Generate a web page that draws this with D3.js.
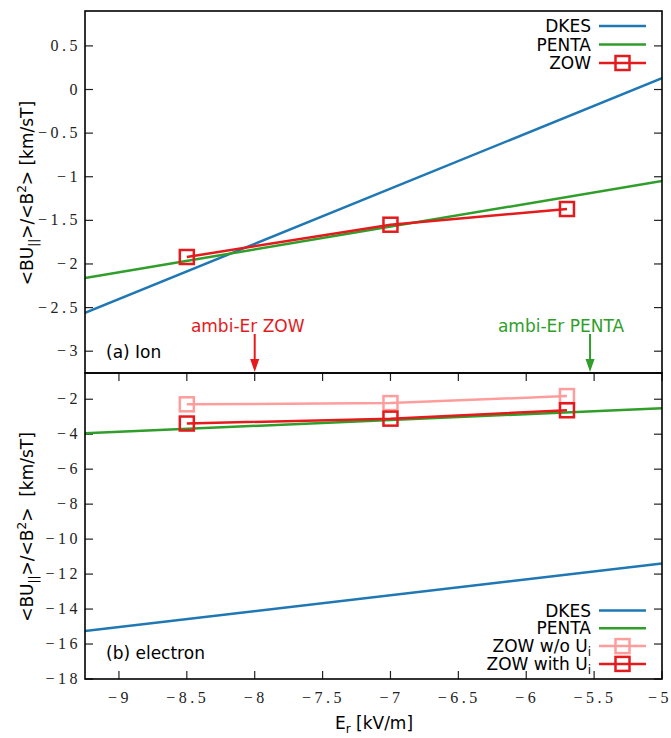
<!DOCTYPE html>
<html>
<head>
<meta charset="utf-8">
<script src="https://cdn.jsdelivr.net/npm/d3@7"></script>
<style>
  body { margin: 0; background: #fff; }
  svg { display: block; }
</style>
</head>
<body>
<div id="vis"></div>
<script>
// data
const erLine = [-9.25, -5];
const erZow = [-8.5, -7, -5.7];

const dkesIon = [-2.56, 0.13];
const pentaIon = [-2.16, -1.05];
const zowIon = [-1.92, -1.55, -1.37];

const dkesEle = [-15.25, -11.4];
const pentaEle = [-3.94, -2.52];
const zowEleNoUi = [-2.29, -2.22, -1.82];
const zowEleUi = [-3.39, -3.11, -2.63];

const ambiZow = -8.0;
const ambiPenta = -5.53;

const xTicks = [-9, -8.5, -8, -7.5, -7, -6.5, -6, -5.5, -5];
const yTicksTop = [0.5, 0, -0.5, -1, -1.5, -2, -2.5, -3];
const yTicksBot = [-2, -4, -6, -8, -10, -12, -14, -16, -18];

const C = {
  dkes: "#1f77b4",
  penta: "#2f9e2a",
  zow: "#e41a1c",
  zowLight: "#ff9d9d"
};

const W = 671, H = 738;
const left = 85, right = 662;
const topPanel = { y0: 11, y1: 373 };
const botPanel = { y0: 373, y1: 679 };

const svg = d3.select("#vis").append("svg")
  .attr("width", W)
  .attr("height", H)
  .style("font-family", "'DejaVu Sans', sans-serif");

const x = d3.scaleLinear().domain([-9.25, -5]).range([left, right]);
const yTop = d3.scaleLinear().domain([-3.25, 0.9]).range([topPanel.y1, topPanel.y0]);
const yBot = d3.scaleLinear().domain([-18, -0.5]).range([botPanel.y1, botPanel.y0]);

const tickFont = "'Liberation Serif', 'DejaVu Serif', serif";
const fmt = v => (v < 0 ? "\u2212" : "") + Math.abs(v);

// clip paths
const defs = svg.append("defs");
defs.append("clipPath").attr("id", "clipTop").append("rect")
  .attr("x", left).attr("y", topPanel.y0).attr("width", right - left).attr("height", topPanel.y1 - topPanel.y0);
defs.append("clipPath").attr("id", "clipBot").append("rect")
  .attr("x", left).attr("y", botPanel.y0).attr("width", right - left).attr("height", botPanel.y1 - botPanel.y0);

// y ticks (inward, both sides)
function yAxis(scale, ticks) {
  const g = svg.append("g").attr("stroke", "#222").attr("stroke-width", 1.2);
  ticks.forEach(t => {
    const yy = scale(t);
    g.append("line").attr("x1", left).attr("x2", left + 8).attr("y1", yy).attr("y2", yy);
    g.append("line").attr("x1", right - 8).attr("x2", right).attr("y1", yy).attr("y2", yy);
    svg.append("text")
      .attr("x", 81)
      .attr("y", yy + 5)
      .attr("text-anchor", "end")
      .attr("font-family", tickFont)
      .attr("font-size", 16)
      .attr("letter-spacing", 3.5)
      .attr("fill", "#222")
      .text(fmt(t));
  });
}
yAxis(yTop, yTicksTop);
yAxis(yBot, yTicksBot);

// x ticks on bottom panel (bottom and top edge, inward)
const xg = svg.append("g").attr("stroke", "#222").attr("stroke-width", 1.2);
xTicks.forEach(t => {
  const xx = x(t);
  xg.append("line").attr("x1", xx).attr("x2", xx).attr("y1", botPanel.y1).attr("y2", botPanel.y1 - 8);
  xg.append("line").attr("x1", xx).attr("x2", xx).attr("y1", botPanel.y0).attr("y2", botPanel.y0 + 8);
  svg.append("text")
    .attr("x", t === -5 ? xx - 2 : xx + 1)
    .attr("y", 703)
    .attr("text-anchor", "middle")
    .attr("font-family", tickFont)
    .attr("font-size", 16)
    .attr("letter-spacing", 3.5)
    .attr("fill", "#222")
    .text(fmt(t));
});

// series
function line(scale, xs, ys, color, clip) {
  const pts = xs.map((v, i) => [x(v), scale(ys[i])]);
  svg.append("path")
    .attr("clip-path", `url(#${clip})`)
    .attr("d", d3.line()(pts))
    .attr("fill", "none")
    .attr("stroke", color)
    .attr("stroke-width", 2.5);
}
function squares(scale, xs, ys, color) {
  svg.append("g").selectAll("rect")
    .data(xs.map((v, i) => [v, ys[i]]))
    .enter()
    .append("rect")
    .attr("x", d => x(d[0]) - 7)
    .attr("y", d => scale(d[1]) - 7)
    .attr("width", 14)
    .attr("height", 14)
    .attr("fill", "none")
    .attr("stroke", color)
    .attr("stroke-width", 2.5);
}

line(yTop, erLine, dkesIon, C.dkes, "clipTop");
line(yTop, erLine, pentaIon, C.penta, "clipTop");
line(yTop, erZow, zowIon, C.zow, "clipTop");
squares(yTop, erZow, zowIon, C.zow);

line(yBot, erLine, dkesEle, C.dkes, "clipBot");
line(yBot, erLine, pentaEle, C.penta, "clipBot");
line(yBot, erZow, zowEleNoUi, C.zowLight, "clipBot");
squares(yBot, erZow, zowEleNoUi, C.zowLight);
line(yBot, erZow, zowEleUi, C.zow, "clipBot");
squares(yBot, erZow, zowEleUi, C.zow);

// panel borders
svg.append("rect")
  .attr("x", left).attr("y", topPanel.y0)
  .attr("width", right - left).attr("height", topPanel.y1 - topPanel.y0)
  .attr("fill", "none").attr("stroke", "#000").attr("stroke-width", 1.6);
svg.append("rect")
  .attr("x", left).attr("y", botPanel.y0)
  .attr("width", right - left).attr("height", botPanel.y1 - botPanel.y0)
  .attr("fill", "none").attr("stroke", "#000").attr("stroke-width", 1.6);

// ambipolar arrows
function arrow(er, color, label, dx) {
  const xx = x(er);
  svg.append("line")
    .attr("x1", xx).attr("x2", xx).attr("y1", 334).attr("y2", 362)
    .attr("stroke", color).attr("stroke-width", 2);
  svg.append("path")
    .attr("d", `M${xx - 4.5},359 L${xx + 4.5},359 L${xx},372 Z`)
    .attr("fill", color);
  svg.append("text")
    .attr("x", xx + dx)
    .attr("y", 332)
    .attr("text-anchor", "middle")
    .attr("font-size", 17)
    .attr("fill", color)
    .text(label);
}
arrow(ambiZow, C.zow, "ambi-Er ZOW", -7);
arrow(ambiPenta, C.penta, "ambi-Er PENTA", -29);

// panel labels
svg.append("text").attr("x", 106).attr("y", 358).attr("font-size", 17).text("(a) Ion");
svg.append("text").attr("x", 106).attr("y", 659).attr("font-size", 17).text("(b) electron");

// legends
function legend(rows, yStart, step) {
  rows.forEach((r, i) => {
    const yy = yStart + i * step;
    const t = svg.append("text")
      .attr("x", 591).attr("y", yy + 6)
      .attr("text-anchor", "end")
      .attr("font-size", 17);
    t.append("tspan").text(r.name);
    if (r.sub) {
      t.append("tspan").attr("font-size", 12).attr("dy", 4).text(r.sub);
    }
    svg.append("line")
      .attr("x1", 599).attr("x2", 646).attr("y1", yy).attr("y2", yy)
      .attr("stroke", r.color).attr("stroke-width", 2.5);
    if (r.marker) {
      svg.append("rect")
        .attr("x", 622.5 - 7).attr("y", yy - 7)
        .attr("width", 14).attr("height", 14)
        .attr("fill", "none").attr("stroke", r.color).attr("stroke-width", 2.5);
    }
  });
}
legend([
  { name: "DKES", color: C.dkes },
  { name: "PENTA", color: C.penta },
  { name: "ZOW", color: C.zow, marker: true }
], 26, 18.5);
legend([
  { name: "DKES", color: C.dkes },
  { name: "PENTA", color: C.penta },
  { name: "ZOW w/o U", sub: "i", color: C.zowLight, marker: true },
  { name: "ZOW with U", sub: "i", color: C.zow, marker: true }
], 610.5, 17.8);

// axis titles
function yTitle(cy, gap) {
  const t = svg.append("text")
    .attr("transform", `translate(33, ${cy}) rotate(-90)`)
    .attr("text-anchor", "middle")
    .attr("font-size", 17);
  t.append("tspan").text("<BU");
  t.append("tspan").attr("font-size", 12).attr("dy", 5).text("||");
  t.append("tspan").attr("dy", -5).text(">/<B");
  t.append("tspan").attr("font-size", 12).attr("dy", -7).text("2");
  t.append("tspan").attr("dy", 7).text(">" + gap + "[km/sT]");
}
yTitle(193, "\u00a0");
yTitle(527, "\u00a0\u00a0");

const xt = svg.append("text")
  .attr("x", 374).attr("y", 729)
  .attr("text-anchor", "middle")
  .attr("font-size", 17);
xt.append("tspan").text("E");
xt.append("tspan").attr("font-size", 12).attr("dy", 4).text("r");
xt.append("tspan").attr("dy", -4).text(" [kV/m]");
</script>
</body>
</html>
